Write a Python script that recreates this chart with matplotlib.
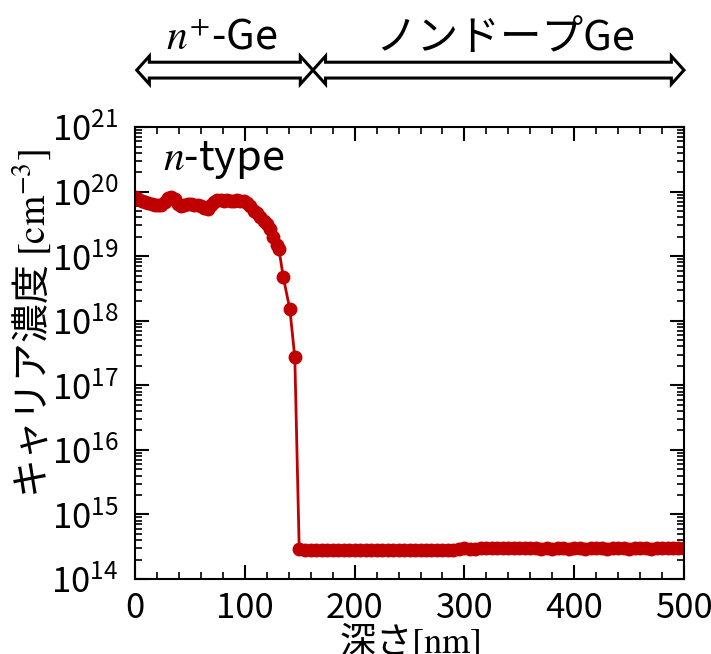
import numpy as np
import matplotlib
matplotlib.use('Agg')
import matplotlib.pyplot as plt
from matplotlib.patches import Polygon
from matplotlib.ticker import LogLocator, MultipleLocator, NullFormatter

plt.rcParams['font.family'] = ['Liberation Sans Narrow', 'Noto Sans CJK JP', 'DejaVu Sans']
plt.rcParams['mathtext.fontset'] = 'stix'

# depth [nm] and carrier density [cm^-3]
depth_top = [0, 3, 6, 9, 12, 15, 18, 21, 24, 27, 30, 33, 36, 39, 42, 45, 48,
             51, 54, 57, 60, 63, 66, 69, 72, 75, 78, 81, 84, 87, 90, 93, 96,
             99, 102, 105, 108, 111, 114, 117, 120, 123, 126, 129]
conc_top = [8.3e19, 7.6e19, 7.2e19, 6.9e19, 6.7e19, 6.5e19, 6.3e19, 6.1e19,
            6.2e19, 7.0e19, 8.0e19, 8.3e19, 7.6e19, 6.5e19, 6.0e19, 6.2e19,
            6.5e19, 6.4e19, 6.3e19, 6.1e19, 5.9e19, 5.6e19, 5.4e19, 6.2e19,
            7.0e19, 7.4e19, 7.4e19, 7.2e19, 7.3e19, 7.2e19, 7.2e19, 7.3e19,
            7.2e19, 7.1e19, 6.6e19, 5.9e19, 5.1e19, 4.6e19, 4.1e19, 3.5e19,
            3.1e19, 2.6e19, 2.0e19, 1.5e19]

depth_drop = [131, 135, 141, 145.5]
conc_drop = [1.3e19, 4.7e18, 1.5e18, 2.7e17]

depth_flat = [149.5, 155, 160, 165, 170, 175, 180, 185, 190, 195, 200, 205,
              210, 215, 220, 225, 230, 235, 240, 245, 250, 255, 260, 265, 270,
              275, 280, 285, 290, 295, 300, 305, 310, 315, 320, 325, 330, 335,
              340, 345, 350, 355, 360, 365, 370, 375, 380, 385, 390, 395, 400,
              405, 410, 415, 420, 425, 430, 435, 440, 445, 450, 455, 460, 465,
              470, 475, 480, 485, 490, 495, 500]
conc_flat = [2.9, 2.85, 2.85, 2.85, 2.85, 2.85, 2.85, 2.85, 2.85, 2.85, 2.85,
             2.85, 2.85, 2.85, 2.85, 2.85, 2.85, 2.85, 2.85, 2.85, 2.85, 2.85,
             2.85, 2.85, 2.85, 2.85, 2.85, 2.85, 2.85, 2.9, 3.0, 2.9, 2.95,
             3.0, 3.0, 3.0, 3.0, 3.0, 3.0, 3.0, 3.0, 3.0, 3.0, 3.0, 2.95, 3.0,
             2.9, 3.0, 3.0, 2.95, 3.0, 3.0, 2.9, 3.0, 3.0, 3.0, 2.95, 3.0,
             3.0, 3.0, 2.95, 3.0, 3.0, 3.0, 2.9, 3.0, 3.0, 3.0, 3.0, 3.0, 3.0]

depth = np.array(depth_top + depth_drop + depth_flat, dtype=float)
conc = np.array(conc_top + conc_drop + [c * 1e14 for c in conc_flat])

red = '#C00000'
jp = ['Noto Sans CJK JP', 'DejaVu Sans']

fig = plt.figure(figsize=(7.11, 6.54), dpi=100)
ax = fig.add_axes([0.190, 0.1147, 0.772, 0.691])

ax.plot(depth, conc, color=red, lw=2, marker='o', ms=9, mec=red, mfc=red)

ax.set_yscale('log')
ax.set_xlim(0, 500)
ax.set_ylim(1e14, 1e21)
ax.xaxis.set_major_locator(MultipleLocator(100))
ax.xaxis.set_minor_locator(MultipleLocator(20))
ax.yaxis.set_major_locator(LogLocator(base=10, numticks=20))
ax.yaxis.set_minor_locator(LogLocator(base=10, subs=np.arange(2, 10), numticks=20))
ax.yaxis.set_minor_formatter(NullFormatter())

ax.tick_params(which='both', direction='in', top=True, right=True)
ax.tick_params(which='major', length=10, width=1.5, labelsize=25)
ax.tick_params(axis='y', which='major', pad=12)
ax.tick_params(axis='x', which='major', pad=9)
ax.tick_params(which='minor', length=5, width=1.2)
for s in ax.spines.values():
    s.set_linewidth(1.5)

ax.set_ylabel('キャリア濃度 $\\mathrm{[cm^{-3}]}$', fontsize=28, family=jp)
ax.yaxis.set_label_coords(-0.148, 0.565)
ax.set_xlabel('深さ$\\mathrm{[nm]}$', fontsize=26, family=jp, labelpad=-4)

ax.text(0.05, 0.927, '$n$-type', transform=ax.transAxes, fontsize=30,
        family=jp, va='center', ha='left')

# double headed hollow arrows above the plot
trans = ax.get_xaxis_transform()


def double_arrow(x0, x1, yc, shaft=0.0175, head=0.031, hl=11.5):
    pts = [(x0, yc), (x0 + hl, yc + head), (x0 + hl, yc + shaft),
           (x1 - hl, yc + shaft), (x1 - hl, yc + head), (x1, yc),
           (x1 - hl, yc - head), (x1 - hl, yc - shaft), (x0 + hl, yc - shaft),
           (x0 + hl, yc - head)]
    p = Polygon(pts, closed=True, transform=trans, facecolor='white',
                edgecolor='black', lw=2.2, clip_on=False, joinstyle='miter')
    ax.add_patch(p)


double_arrow(1.5, 162, 1.126)
double_arrow(162, 500, 1.126)

ax.text(79, 1.197, '$n^{+}$-Ge', transform=trans, fontsize=30, ha='center',
        va='center', family=jp)
ax.text(337, 1.197, 'ノンドープGe', transform=trans, fontsize=30, ha='center',
        va='center', family=jp)

fig.savefig('out.png', dpi=100)
